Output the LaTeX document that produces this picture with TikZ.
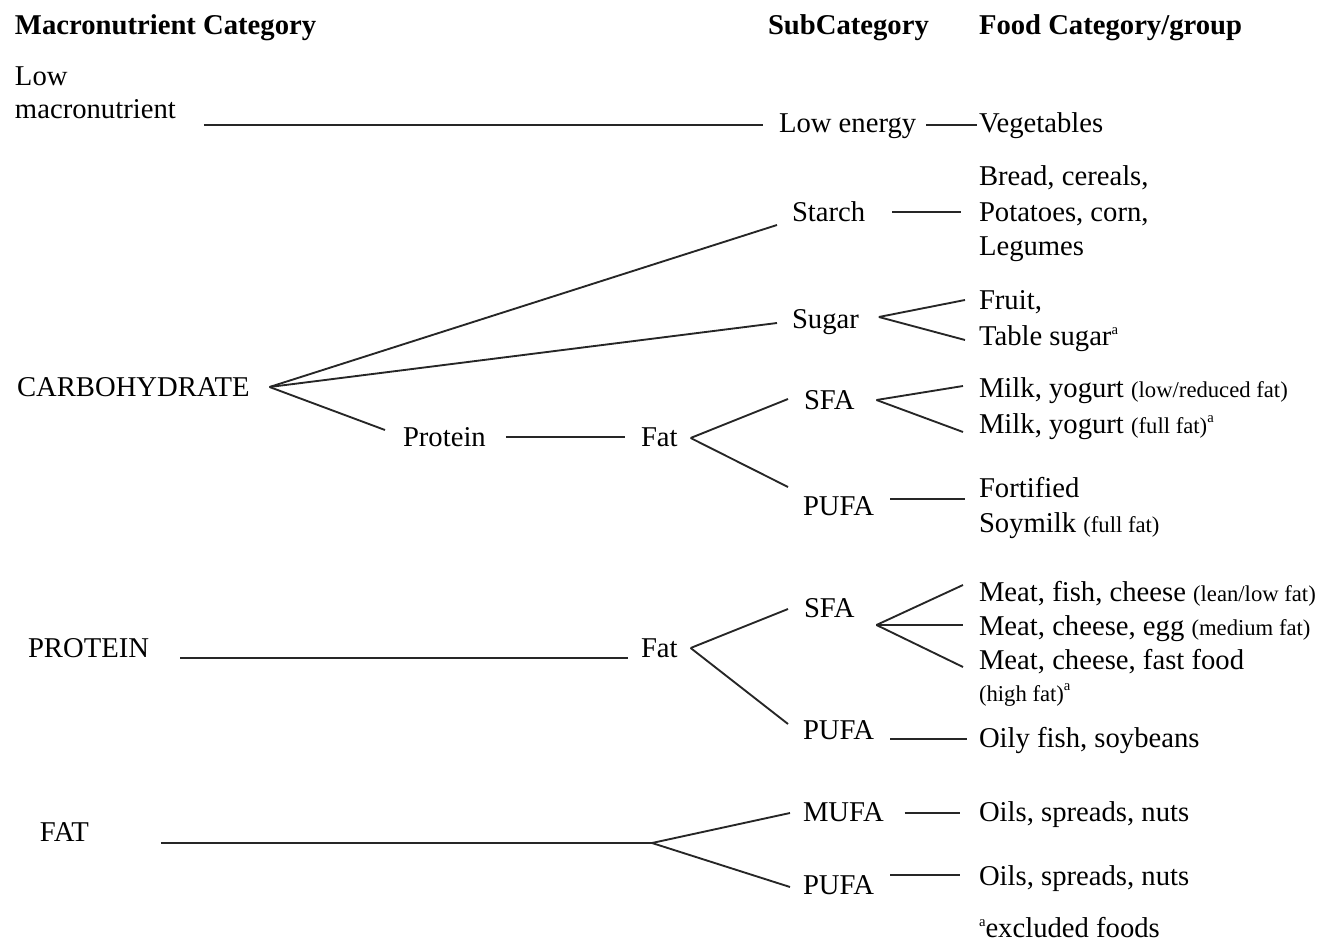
\documentclass[tikz,border=0pt]{standalone}
\usepackage{fontspec}
\setmainfont{Liberation Serif}
\usetikzlibrary{calc}
\newcommand{\supa}{\raisebox{0.38em}{\fontsize{11}{11}\selectfont a}}
\newcommand{\sm}[1]{{\fontsize{17}{20}\selectfont #1}}
\begin{document}
\begin{tikzpicture}[x=0.75pt,y=-0.75pt,
  lbl/.style={anchor=west,inner sep=0pt,outer sep=0pt,font=\fontsize{21.5}{27}\selectfont,text height=15pt,text depth=4.3pt},
  hdr/.style={anchor=base west,inner sep=0pt,outer sep=0pt,font=\fontsize{21.5}{27}\selectfont\bfseries},
  conn/.style={line width=1.4pt,black!85}]
\useasboundingbox (0,0) rectangle (1336,941);
% headers
\node[hdr] (h1) at (15,35) {Macronutrient Category};
\node[hdr] (h2) at (768,35) {SubCategory};
\node[hdr] (h3) at (979,35) {Food Category/group};
% left column
\node[lbl] (low) at (15,78) {Low};
\node[lbl] (macro) at (15,111) {macronutrient};
\node[lbl] (carb) at (17,389) {CARBOHYDRATE};
\node[lbl] (prot) at (28,650) {PROTEIN};
\node[lbl] (fat) at (40,834) {FAT};
% middle
\node[lbl] (protein1) at (403,439) {Protein};
\node[lbl] (fat1) at (641,439) {Fat};
\node[lbl] (fat2) at (641,650) {Fat};
% subcategory
\node[lbl] (lowen) at (779,125) {Low energy};
\node[lbl] (starch) at (792,214) {Starch};
\node[lbl] (sugar) at (792,321) {Sugar};
\node[lbl] (sfa1) at (804,402) {SFA};
\node[lbl] (pufa1) at (803,508) {PUFA};
\node[lbl] (sfa2) at (804,610) {SFA};
\node[lbl] (pufa2) at (803,732) {PUFA};
\node[lbl] (mufa) at (803,814) {MUFA};
\node[lbl] (pufa3) at (803,887) {PUFA};
% food groups
\node[lbl] (veg) at (979,125) {Vegetables};
\node[lbl] (bread) at (979,178) {Bread, cereals,};
\node[lbl] (potatoes) at (979,214) {Potatoes, corn,};
\node[lbl] (legumes) at (979,248) {Legumes};
\node[lbl] (fruit) at (979,302) {Fruit,};
\node[lbl] (table) at (979,338) {Table sugar\supa};
\node[lbl] (milk1) at (979,390) {Milk, yogurt \sm{(low/reduced fat)}};
\node[lbl] (milk2) at (979,426) {Milk, yogurt \sm{(full fat)}\supa};
\node[lbl] (fortified) at (979,490) {Fortified};
\node[lbl] (soymilk) at (979,525) {Soymilk \sm{(full fat)}};
\node[lbl] (meat1) at (979,594) {Meat, fish, cheese \sm{(lean/low fat)}};
\node[lbl] (meat2) at (979,628) {Meat, cheese, egg \sm{(medium fat)}};
\node[lbl] (meat3) at (979,662) {Meat, cheese, fast food};
\node[lbl] (highfat) at (979,694) {\sm{(high fat)}\supa};
\node[lbl] (oily) at (979,740) {Oily fish, soybeans};
\node[lbl] (oils1) at (979,814) {Oils, spreads, nuts};
\node[lbl] (oils2) at (979,878) {Oils, spreads, nuts};
\node[lbl] (excl) at (979,930) {\supa excluded foods};
% fork points
\coordinate (carbA) at ($(carb.east)+(20,-2)$);
\coordinate (sugarA) at ($(sugar.east)+(20,-4)$);
\coordinate (fat1A) at ($(fat1.east)+(13,-1)$);
\coordinate (sfa1A) at ($(sfa1.east)+(22,-2)$);
\coordinate (fat2A) at ($(fat2.east)+(13,-2)$);
\coordinate (sfa2A) at ($(sfa2.east)+(22,15)$);
\coordinate (fatA) at ($(mufa.west)+(-151,29)$);
% connectors
\draw[conn] ($(macro.east |- lowen.west)+(28,0)$) -- ($(lowen.west)+(-16,0)$);
\draw[conn] ($(lowen.east)+(10,0)$) -- ($(veg.west)+(-2,0)$);
\draw[conn] (carbA) -- ($(starch.west)+(-15,11)$);
\draw[conn] (carbA) -- ($(sugar.west)+(-15,2)$);
\draw[conn] (carbA) -- ($(protein1.west)+(-18,-9)$);
\draw[conn] ($(starch.east)+(27,-2)$) -- ($(potatoes.west)+(-18,-2)$);
\draw[conn] (sugarA) -- ($(fruit.west)+(-14,-2)$);
\draw[conn] (sugarA) -- ($(table.west)+(-14,2)$);
\draw[conn] ($(protein1.east)+(20,-2)$) -- ($(fat1.west)+(-16,-2)$);
\draw[conn] (fat1A) -- ($(sfa1.west)+(-16,-3)$);
\draw[conn] (fat1A) -- ($(pufa1.west)+(-15,-21)$);
\draw[conn] (sfa1A) -- ($(milk1.west)+(-16,-4)$);
\draw[conn] (sfa1A) -- ($(milk2.west)+(-16,6)$);
\draw[conn] ($(pufa1.east)+(16,-9)$) -- ($(fortified.west)+(-14,9)$);
\draw[conn] ($(prot.east)+(31,8)$) -- ($(fat2.west)+(-13,8)$);
\draw[conn] (fat2A) -- ($(sfa2.west)+(-16,-1)$);
\draw[conn] (fat2A) -- ($(pufa2.west)+(-15,-8)$);
\draw[conn] (sfa2A) -- ($(meat1.west)+(-16,-9)$);
\draw[conn] (sfa2A) -- ($(meat2.west)+(-16,-3)$);
\draw[conn] (sfa2A) -- ($(meat3.west)+(-16,5)$);
\draw[conn] ($(pufa2.east)+(16,7)$) -- ($(oily.west)+(-12,-1)$);
\draw[conn] ($(fat.east)+(72,9)$) -- (fatA);
\draw[conn] (fatA) -- ($(mufa.west)+(-13,-1)$);
\draw[conn] (fatA) -- ($(pufa3.west)+(-13,0)$);
\draw[conn] ($(mufa.east)+(21,-1)$) -- ($(oils1.west)+(-19,-1)$);
\draw[conn] ($(pufa3.east)+(16,-12)$) -- ($(oils2.west)+(-19,-3)$);
\end{tikzpicture}
\end{document}
